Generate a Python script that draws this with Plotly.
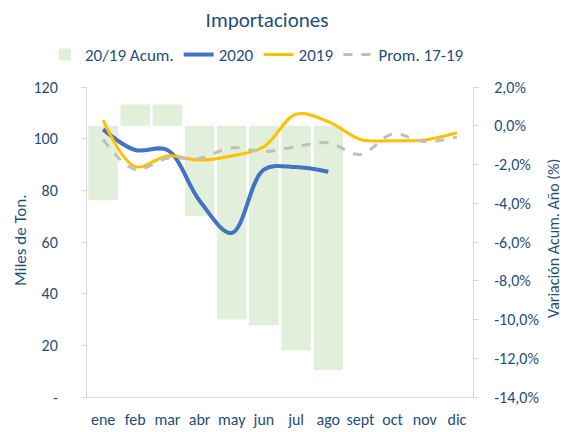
import plotly.graph_objects as go

months = ["ene", "feb", "mar", "abr", "may", "jun", "jul", "ago", "sept", "oct", "nov", "dic"]
acum_20_19 = [-3.85, 1.1, 1.1, -4.65, -10.0, -10.3, -11.6, -12.6]  # %
v2020 = [103.6, 95.6, 95.6, 76.0, 63.5, 88.0, 89.0, 87.2]
v2019 = [107.2, 89.2, 93.3, 91.7, 93.3, 96.9, 109.5, 106.6, 99.7, 99.2, 99.5, 102.3]
prom_17_19 = [99.7, 88.1, 92.4, 92.4, 96.5, 95.0, 96.9, 98.4, 93.9, 101.8, 98.8, 100.6]

left_ticks = [0, 20, 40, 60, 80, 100, 120]
left_ticktext = ["-", "20", "40", "60", "80", "100", "120"]
right_ticks = [-14, -12, -10, -8, -6, -4, -2, 0, 2]
right_ticktext = [f"{v:.1f}%".replace(".", ",") for v in right_ticks]

txt = "#1F4E79"
font_family = "Carlito, Lato, 'Open Sans', sans-serif"
fs = 16

# page has an 8px body margin; figure sized to fit the 568x432 window
W, H = 560, 424
l, r, t, b = 79, 95, 79, 35
pw, ph = W - l - r, H - t - b

fig = go.Figure()
fig.add_trace(go.Bar(x=months[:len(acum_20_19)], y=acum_20_19, name="20/19 Acum.",
                     marker=dict(color="#E2EFDA", line=dict(width=0)), yaxis="y"))
fig.add_trace(go.Scatter(x=months[:len(v2020)], y=v2020, name="2020", mode="lines",
                         line=dict(color="#4472C4", width=4, shape="spline", smoothing=1.0), yaxis="y2"))
fig.add_trace(go.Scatter(x=months, y=v2019, name="2019", mode="lines",
                         line=dict(color="#FFC000", width=3, shape="spline", smoothing=1.0), yaxis="y2"))
fig.add_trace(go.Scatter(x=months, y=prom_17_19, name="Prom. 17-19", mode="lines",
                         line=dict(color="#BFBFBF", width=3, dash="dash", shape="spline", smoothing=1.0), yaxis="y2"))

fig.update_layout(
    width=W, height=H,
    margin=dict(l=l, r=r, t=t, b=b, autoexpand=False),
    paper_bgcolor="white", plot_bgcolor="white",
    font=dict(family=font_family, color=txt, size=fs),
    title=dict(text="Importaciones", x=259 / W, xanchor="center", xref="container",
               y=1 - 12 / H, yanchor="middle", yref="container",
               font=dict(size=21, color=txt)),
    bargap=0.08,
    showlegend=True,
    legend=dict(orientation="h", x=(37 - l) / pw, xanchor="left", xref="paper",
                y=1 + (t - 47) / ph, yanchor="middle", yref="paper",
                font=dict(size=17, color=txt), traceorder="normal", itemwidth=30,
                bgcolor="rgba(0,0,0,0)"),
    xaxis=dict(categoryorder="array", categoryarray=months, range=[-0.5, 11.5],
               showline=True, linecolor="#D9D9D9", linewidth=1, ticks="",
               tickfont=dict(size=fs, color=txt), showgrid=False, zeroline=False,
               automargin=False, ticklabelstandoff=8),
    yaxis=dict(side="right", range=[-14, 2], tickvals=right_ticks, ticktext=right_ticktext,
               showline=True, linecolor="#D9D9D9", linewidth=1, ticks="outside", ticklen=5,
               tickcolor="#D9D9D9", showgrid=False, zeroline=False, automargin=False,
               tickfont=dict(size=fs, color=txt), ticklabelstandoff=12),
    yaxis2=dict(side="left", overlaying="y", range=[0, 120], tickvals=left_ticks, ticktext=left_ticktext,
                showline=True, linecolor="#D9D9D9", linewidth=1, ticks="outside", ticklen=5,
                tickcolor="#D9D9D9", showgrid=False, zeroline=False, automargin=False,
                tickfont=dict(size=fs, color=txt), ticklabelstandoff=20),
    annotations=[
        dict(text="Miles de Ton.", x=(12 - l) / pw, y=(H - b - 233) / ph, xref="paper", yref="paper",
             showarrow=False, textangle=-90, font=dict(size=17, color=txt),
             xanchor="center", yanchor="middle"),
        dict(text="Variación Acum. Año (%)", x=(545 - l) / pw, y=(H - b - 231) / ph,
             xref="paper", yref="paper",
             showarrow=False, textangle=-90, font=dict(size=16, color=txt),
             xanchor="center", yanchor="middle"),
    ],
)
fig.write_html("out.html")
